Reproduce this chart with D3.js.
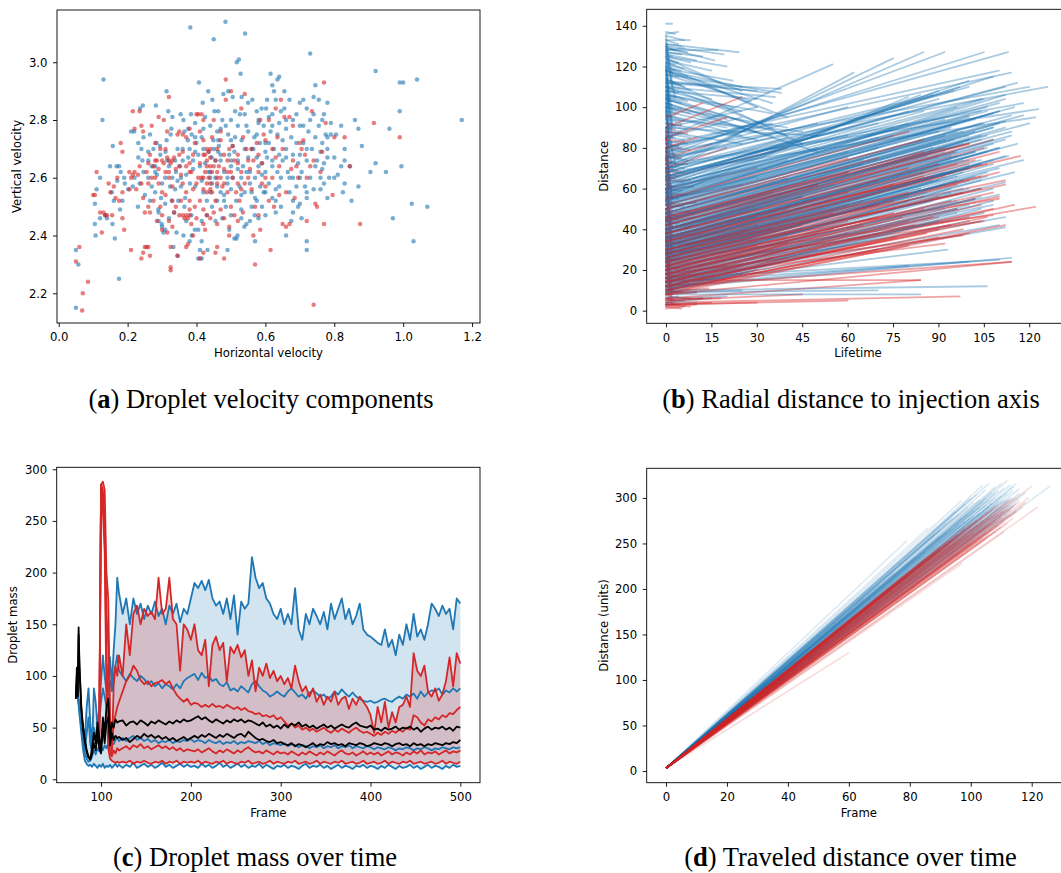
<!DOCTYPE html>
<html><head><meta charset="utf-8">
<script src="https://cdnjs.cloudflare.com/ajax/libs/d3/7.8.5/d3.min.js"></script>
<style>
body{margin:0;background:#fff;}
svg{display:block;}
</style></head><body>
<svg id="fig" width="1061" height="873"></svg>
<script>
// ===================== DATA =====================
// (a) velocity components [horizontal, vertical]
const velBlue = [
[0.05,2.35],[0.057,2.30],[0.05,2.15],
[0.13,2.94],[0.127,2.80],[0.105,2.51],[0.11,2.56],[0.105,2.44],[0.107,2.40],[0.12,2.60],[0.12,2.46],[0.135,2.47],[0.14,2.46],
[0.157,2.71],[0.154,2.55],[0.149,2.64],[0.168,2.64],[0.175,2.64],[0.16,2.52],[0.178,2.49],[0.163,2.39],[0.156,2.44],[0.175,2.25],[0.185,2.52],[0.19,2.60],[0.17,2.59],[0.18,2.62],
[0.219,2.76],[0.236,2.84],[0.244,2.85],[0.231,2.72],[0.246,2.74],[0.231,2.67],[0.243,2.66],[0.202,2.56],[0.192,2.58],[0.246,2.62],[0.22,2.60],[0.235,2.58],[0.21,2.76],[0.24,2.70],[0.25,2.54],[0.23,2.50],[0.215,2.57],
[0.282,2.85],[0.27,2.64],[0.28,2.64],[0.26,2.60],[0.284,2.72],[0.294,2.71],[0.297,2.53],[0.289,2.49],[0.299,2.44],[0.29,2.48],[0.27,2.57],[0.285,2.61],[0.295,2.68],[0.275,2.70],[0.26,2.69],[0.265,2.75],[0.29,2.45],[0.30,2.43],[0.28,2.55],[0.265,2.52],
[0.313,2.90],[0.318,2.83],[0.313,2.73],[0.327,2.77],[0.325,2.75],[0.309,2.60],[0.323,2.57],[0.309,2.51],[0.328,2.52],[0.309,2.42],[0.304,2.41],[0.338,2.56],[0.338,2.66],[0.333,2.36],[0.345,2.33],[0.342,2.41],[0.34,2.62],[0.32,2.64],[0.345,2.70],[0.335,2.48],[0.315,2.66],[0.33,2.81],[0.345,2.59],[0.32,2.46],[0.31,2.69],
[0.382,3.12],[0.365,2.76],[0.376,2.77],[0.386,2.75],[0.362,2.80],[0.354,2.82],[0.384,2.82],[0.396,2.79],[0.396,2.74],[0.352,2.64],[0.376,2.67],[0.396,2.69],[0.381,2.58],[0.396,2.57],[0.347,2.52],[0.367,2.53],[0.362,2.40],[0.386,2.40],[0.38,2.38],[0.36,2.70],[0.37,2.61],[0.39,2.63],[0.355,2.57],[0.385,2.47],[0.37,2.45],[0.395,2.42],[0.365,2.50],[0.39,2.66],[0.375,2.73],[0.355,2.60],
[0.407,2.93],[0.434,2.90],[0.418,2.86],[0.446,2.87],[0.415,2.74],[0.42,2.70],[0.444,2.67],[0.415,2.59],[0.405,2.42],[0.415,2.38],[0.432,2.35],[0.405,2.32],[0.415,2.32],[0.41,2.35],[0.449,2.73],[0.425,2.65],[0.435,2.62],[0.445,2.58],[0.42,2.55],[0.43,2.52],[0.44,2.55],[0.41,2.64],[0.44,2.78],[0.425,2.81],[0.445,2.50],[0.43,2.47],[0.415,2.45],[0.405,2.68],[0.435,2.69],[0.45,3.08],[0.44,2.60],
[0.484,3.14],[0.478,2.89],[0.492,2.90],[0.452,2.83],[0.463,2.83],[0.463,2.73],[0.463,2.69],[0.492,2.75],[0.47,2.66],[0.48,2.62],[0.455,2.60],[0.49,2.58],[0.47,2.55],[0.46,2.52],[0.485,2.50],[0.475,2.46],[0.49,2.35],[0.495,2.42],[0.455,2.45],[0.465,2.71],[0.485,2.78],[0.475,2.80],[0.495,2.68],[0.46,2.57],[0.48,2.54],[0.50,2.64],[0.49,2.60],[0.455,2.66],[0.47,2.77],[0.50,2.73],
[0.541,3.10],[0.517,3.00],[0.523,3.01],[0.528,2.96],[0.505,2.88],[0.531,2.88],[0.512,2.83],[0.526,2.82],[0.512,2.74],[0.531,2.73],[0.51,2.69],[0.52,2.66],[0.535,2.64],[0.545,2.62],[0.505,2.60],[0.525,2.57],[0.54,2.55],[0.515,2.52],[0.53,2.49],[0.545,2.44],[0.516,2.39],[0.519,2.40],[0.539,2.43],[0.51,2.39],[0.545,2.78],[0.52,2.78],[0.505,2.71],[0.54,2.70],[0.55,2.76],[0.53,2.60],
[0.55,2.86],[0.562,2.87],[0.575,2.83],[0.589,2.84],[0.568,2.74],[0.584,2.72],[0.56,2.70],[0.575,2.67],[0.59,2.65],[0.555,2.62],[0.57,2.60],[0.585,2.57],[0.595,2.55],[0.56,2.55],[0.575,2.52],[0.59,2.50],[0.569,2.47],[0.555,2.45],[0.57,2.38],[0.58,2.46],[0.565,2.70],[0.595,2.78],[0.58,2.79],[0.60,2.72],[0.59,2.61],[0.555,2.58],[0.575,2.75],
[0.602,2.84],[0.615,2.96],[0.62,2.92],[0.635,2.94],[0.64,2.95],[0.625,2.90],[0.605,2.87],[0.63,2.87],[0.645,2.83],[0.61,2.81],[0.62,2.78],[0.635,2.75],[0.65,2.73],[0.61,2.72],[0.625,2.70],[0.64,2.68],[0.605,2.67],[0.62,2.64],[0.635,2.62],[0.645,2.60],[0.61,2.58],[0.63,2.56],[0.62,2.53],[0.645,2.50],[0.63,2.48],[0.60,2.62],[0.65,2.66],[0.615,2.76],[0.64,2.79],
[0.655,2.90],[0.67,2.87],[0.68,2.80],[0.69,2.82],[0.66,2.77],[0.675,2.74],[0.69,2.72],[0.66,2.70],[0.68,2.68],[0.695,2.65],[0.665,2.62],[0.68,2.60],[0.69,2.57],[0.67,2.55],[0.68,2.52],[0.695,2.50],[0.66,2.40],[0.675,2.45],[0.70,2.51],[0.655,2.84],[0.70,2.86],
[0.73,3.03],[0.745,2.92],[0.71,2.87],[0.72,2.84],[0.74,2.82],[0.73,2.80],[0.71,2.78],[0.725,2.76],[0.745,2.74],[0.71,2.72],[0.735,2.70],[0.72,2.66],[0.745,2.64],[0.705,2.62],[0.73,2.60],[0.715,2.57],[0.74,2.56],[0.72,2.53],[0.705,2.46],[0.72,2.38],[0.72,2.35],[0.70,2.60],[0.74,2.88],
[0.755,2.87],[0.77,2.82],[0.78,2.86],[0.765,2.80],[0.79,2.79],[0.775,2.75],[0.78,2.74],[0.765,2.72],[0.76,2.69],[0.78,2.67],[0.765,2.63],[0.785,2.60],[0.77,2.58],[0.76,2.56],[0.78,2.53],[0.79,2.75],[0.755,2.78],[0.77,2.65],
[0.82,2.78],[0.86,2.80],[0.87,2.77],[0.88,2.71],[0.83,2.66],[0.845,2.64],[0.81,2.61],[0.83,2.58],[0.825,2.55],[0.87,2.57],[0.85,2.52],[0.80,2.60],[0.805,2.75],[0.83,2.70],[0.82,2.64],
[0.92,2.97],[0.99,2.93],[1.00,2.93],[1.04,2.94],[1.17,2.80],[0.99,2.83],[0.96,2.77],[0.92,2.65],[0.905,2.62],[0.95,2.62],[0.995,2.64],[1.025,2.51],[1.07,2.50],[0.97,2.46],[1.03,2.38],
[0.45,2.70],[0.47,2.68],[0.50,2.66],[0.52,2.63],[0.55,2.67],[0.58,2.64],[0.60,2.69],[0.62,2.66],[0.66,2.67],[0.70,2.68],[0.72,2.70],[0.75,2.66],[0.50,2.56],[0.53,2.54],[0.57,2.53],[0.60,2.55],[0.64,2.57],[0.67,2.60],[0.48,2.52],[0.44,2.62],[0.42,2.77],[0.46,2.76],[0.50,2.80],[0.54,2.82],[0.58,2.80],[0.62,2.82],[0.66,2.80],[0.70,2.78],[0.38,2.70],[0.40,2.72],[0.36,2.66],[0.33,2.60],[0.30,2.58],[0.28,2.62],[0.26,2.66],[0.50,2.47],[0.53,2.46],[0.56,2.50],[0.60,2.47],[0.63,2.52],[0.68,2.48],[0.72,2.55],[0.76,2.60],[0.78,2.70],[0.80,2.67]
];
const velRed = [
[0.06,2.36],[0.05,2.31],[0.085,2.24],[0.07,2.20],[0.068,2.14],
[0.10,2.54],[0.105,2.54],[0.11,2.62],[0.12,2.48],[0.13,2.48],[0.125,2.41],[0.135,2.47],[0.14,2.47],[0.145,2.58],
[0.15,2.55],[0.16,2.57],[0.165,2.53],[0.175,2.52],[0.18,2.72],[0.185,2.69],[0.185,2.46],[0.19,2.42],[0.185,2.55],[0.17,2.60],[0.155,2.47],
[0.205,2.62],[0.21,2.60],[0.215,2.61],[0.22,2.62],[0.23,2.61],[0.215,2.83],[0.205,2.56],[0.21,2.35],[0.22,2.77],[0.24,2.78],[0.245,2.76],[0.235,2.83],[0.24,2.58],[0.245,2.53],[0.24,2.32],[0.245,2.34],[0.25,2.36],[0.235,2.64],[0.225,2.56],[0.25,2.48],
[0.255,2.36],[0.26,2.36],[0.265,2.33],[0.255,2.62],[0.26,2.65],[0.265,2.68],[0.27,2.60],[0.275,2.64],[0.28,2.66],[0.285,2.66],[0.29,2.58],[0.26,2.50],[0.275,2.52],[0.265,2.48],[0.285,2.45],[0.29,2.81],[0.295,2.70],[0.28,2.72],[0.27,2.78],[0.29,2.63],[0.30,2.55],[0.295,2.50],[0.26,2.58],[0.30,2.42],
[0.32,2.88],[0.305,2.80],[0.315,2.76],[0.315,2.67],[0.32,2.66],[0.325,2.65],[0.33,2.66],[0.335,2.67],[0.305,2.65],[0.31,2.62],[0.32,2.60],[0.33,2.57],[0.31,2.54],[0.33,2.52],[0.34,2.50],[0.32,2.45],[0.33,2.43],[0.325,2.36],[0.325,2.29],[0.325,2.28],[0.345,2.33],[0.31,2.70],[0.345,2.75],[0.34,2.63],[0.335,2.48],[0.315,2.41],
[0.35,2.76],[0.36,2.75],[0.37,2.74],[0.38,2.77],[0.35,2.64],[0.355,2.61],[0.36,2.58],[0.37,2.55],[0.38,2.52],[0.36,2.47],[0.365,2.46],[0.37,2.47],[0.375,2.46],[0.38,2.47],[0.385,2.44],[0.375,2.37],[0.37,2.36],[0.395,2.50],[0.39,2.56],[0.385,2.62],[0.39,2.68],[0.395,2.72],[0.36,2.69],[0.38,2.65],[0.355,2.52],[0.39,2.40],[0.40,2.82],
[0.405,2.82],[0.415,2.82],[0.42,2.80],[0.41,2.76],[0.42,2.73],[0.43,2.70],[0.425,2.68],[0.435,2.69],[0.44,2.67],[0.41,2.65],[0.415,2.60],[0.425,2.62],[0.435,2.60],[0.44,2.58],[0.445,2.62],[0.42,2.56],[0.43,2.55],[0.41,2.52],[0.42,2.49],[0.43,2.47],[0.44,2.46],[0.41,2.32],[0.42,2.34],[0.425,2.42],[0.445,2.74],[0.44,2.64],[0.43,2.64],[0.405,2.60],[0.445,2.55],[0.43,2.58],
[0.45,2.80],[0.46,2.70],[0.47,2.73],[0.455,2.66],[0.465,2.64],[0.48,2.68],[0.49,2.66],[0.46,2.60],[0.475,2.57],[0.49,2.55],[0.455,2.52],[0.47,2.49],[0.48,2.46],[0.495,2.43],[0.48,2.32],[0.495,2.40],[0.46,2.36],[0.455,2.34],[0.485,2.94],[0.485,2.87],[0.50,2.90],[0.47,2.76],[0.49,2.62],[0.46,2.44],[0.495,2.70],
[0.51,2.66],[0.52,2.65],[0.53,2.62],[0.505,2.60],[0.54,2.58],[0.515,2.55],[0.525,2.52],[0.535,2.48],[0.51,2.47],[0.52,2.45],[0.505,2.71],[0.53,2.84],[0.54,2.89],[0.545,2.70],[0.535,2.74],[0.55,2.66],[0.52,2.58],
[0.555,2.63],[0.565,2.66],[0.575,2.72],[0.58,2.68],[0.59,2.65],[0.57,2.50],[0.58,2.47],[0.565,2.40],[0.57,2.30],[0.585,2.42],[0.59,2.58],[0.56,2.56],[0.595,2.75],[0.585,2.80],[0.60,2.60],
[0.61,2.80],[0.63,2.84],[0.645,2.87],[0.62,2.70],[0.63,2.67],[0.64,2.64],[0.61,2.52],[0.625,2.50],[0.615,2.35],[0.64,2.54],[0.60,2.57],[0.65,2.44],[0.635,2.74],
[0.655,2.81],[0.67,2.81],[0.68,2.78],[0.66,2.55],[0.675,2.63],[0.69,2.64],[0.67,2.44],[0.66,2.43],[0.685,2.53],[0.695,2.60],[0.70,2.72],
[0.71,2.73],[0.72,2.60],[0.73,2.64],[0.74,2.66],[0.715,2.68],[0.735,2.83],[0.745,2.51],[0.75,2.50],[0.72,2.45],[0.74,2.16],[0.705,2.70],
[0.765,2.69],[0.77,2.93],[0.775,2.79],[0.77,2.44],[0.795,2.54],[0.80,2.74],[0.76,2.62],
[0.83,2.74],[0.845,2.64],[0.875,2.44],[0.915,2.79],[0.99,2.74],
[0.42,2.68],[0.43,2.66],[0.44,2.70],[0.45,2.64],[0.46,2.62],[0.47,2.60],[0.38,2.62],[0.40,2.58],[0.42,2.60],[0.44,2.56],[0.46,2.58],[0.48,2.63],[0.50,2.62],[0.52,2.68],[0.55,2.60],[0.58,2.62],[0.62,2.60],[0.35,2.68],[0.37,2.64],[0.32,2.62],[0.30,2.66],[0.28,2.60],[0.40,2.46],[0.42,2.44],[0.38,2.49],[0.35,2.47],[0.50,2.50],[0.53,2.56],[0.56,2.70],[0.60,2.73],[0.65,2.70],[0.68,2.66],[0.45,2.48],[0.48,2.58],[0.30,2.47]
];
const velXTicks = [0.0,0.2,0.4,0.6,0.8,1.0,1.2];
const velYTicks = [2.2,2.4,2.6,2.8,3.0];

// (b) radial distance trajectories [lifetime0, dist0, lifetime1, dist1]
const radialBlue = [
[0,141,2,141],[0,137,3,136],[0,136,4,137],[0,131,5,130],[0,130,3,128],[0,128,6,129],[0,126,2,125],[0,124,4,122],[0,122,3,121],[0,120,5,118],[0,118,2,117],[0,116,4,115],[0,114,3,112],[0,112,6,110],[0,110,2,109],[0,108,4,107],[0,106,3,105],[0,104,5,102],[0,102,2,101],[0,100,3,99],[0,98,4,97],[0,96,2,95],[0,94,5,92],[0,92,3,91],[0,90,2,89],[0,88,4,87],[0,86,3,85],[0,84,2,83],[0,82,5,80],[0,80,3,79],[0,78,2,77],[0,76,4,75],[0,74,3,73],[0,72,2,71],[0,70,3,69],[0,66,2,65],[0,62,3,61],[0,10,5,9],[0,6,4,7],[0,4,6,5],[0,3,3,3],[0,119,3,118],[0,115,2,114],[0,109,3,108],[0,103,2,103],[0,97,3,96],[0,93,2,92],
[0,135,1,120],[0,130,2,110],[0,125,3,105],[0,120,1,95],[0,115,2,90],[0,110,2,85],[0,105,1,80],[0,100,1,75],[0,95,3,72],[0,90,2,70],[0,85,1,60],[0,80,2,55],[0,128,1,100],[0,118,2,98],[0,108,1,88],[0,98,2,78],[0,88,1,65],[0,75,2,50],[0,70,1,40],[0,60,2,30],[0,50,1,20],[0,40,2,10],[0,132,2,116],[0,122,1,102],[0,112,2,92],[0,102,1,82],
[0,135,6,133],[0,133,4,131],[0,129,7,127],[0,127,5,126],[0,125,8,122],[0,121,6,119],[0,117,7,115],[0,113,5,111],[0,111,8,108],[0,107,6,104],[0,105,7,103],[0,101,5,99],[0,99,8,97],[0,95,6,93],[0,91,7,89],[0,89,5,88],[0,87,8,85],[0,85,6,84],[0,83,7,82],[0,81,4,80],[0,79,6,78],[0,77,5,76],[0,75,7,74],[0,73,4,72],[0,71,6,70],[0,69,5,68],[0,67,4,66],[0,64,6,63],[0,60,5,59],[0,56,4,55],[0,52,6,51],[0,48,3,47],[0,44,4,43],[0,8,10,9],[0,5,12,6],[0,7,8,6],[0,4,15,6],[0,6,20,7],[0,3,10,4],[0,9,25,10],
[0,130,19,126],[0,128,17,128],[0,127,12,125],[0,129,16,123],[0,125,20,120],[0,123,15,118],[0,131,24,127],[0,119,22,113],[0,112,38,109],[0,110,36,105],[0,113,34,107],[0,108,30,104],[0,116,28,103],[0,106,25,98],[0,118,40,95],[0,114,45,82],[0,110,35,90],[0,104,20,94],[0,120,30,100],[0,102,50,78],[0,126,10,123],[0,133,8,133],[0,124,18,112],[0,122,25,108],[0,118,35,102],[0,100,30,88],[0,105,40,86],[0,96,25,86],
[0,118,25,110],[0,116,38,107],[0,112,30,108],[0,110,15,104],[0,108,22,100],[0,106,35,97],[0,104,28,92],[0,102,18,94],[0,100,40,90],[0,98,35,86],[0,96,20,90],[0,94,45,88],[0,92,30,84],[0,90,50,86],[0,88,25,82],
[0,80,113,127],[0,78,105,127],[0,76,92,127],[0,72,85,127],[0,70,75,124],[0,68,62,117],[0,85,55,121],[0,82,110,118],[0,80,114,117],[0,78,120,110],[0,75,126,110],[0,72,123,99],[0,70,118,102],[0,68,122,95],[0,66,116,112],[0,64,108,115],[0,62,100,113],[0,64,97,110],[0,60,90,108],[0,58,84,106],[0,56,80,105],[0,55,112,106],[0,54,105,104],[0,52,115,100],[0,50,110,98],[0,48,118,96],[0,46,112,93],[0,45,120,92],[0,44,108,90],[0,42,114,88],[0,40,104,86],[0,40,112,84],[0,38,100,84],[0,36,116,82],[0,35,110,80],[0,34,106,78],[0,33,96,76],[0,32,113,76],[0,31,108,74],[0,30,118,74],[0,30,104,72],[0,29,110,70],[0,28,100,70],[0,27,115,68],[0,26,106,66],[0,25,98,64],[0,24,112,63],[0,23,104,60],[0,22,94,58],[0,21,110,57],[0,20,102,55],[0,19,108,52],[0,18,96,50],[0,17,105,48],[0,16,112,46],[0,15,100,44],[0,14,110,42],[0,13,93,30],[0,12,112,41],[0,11,114,26],[0,10,106,12],[0,8,84,8],[0,9,70,10],[0,12,80,22],[0,14,100,24],[0,16,110,25],
[0,62,106,100],[0,60,110,102],[0,58,104,98],[0,57,100,96],[0,55,108,97],[0,54,96,92],[0,53,102,94],[0,52,90,88],[0,50,105,92],[0,49,98,88],[0,48,92,86],[0,47,108,90],[0,46,100,86],[0,45,95,84],[0,44,88,80],[0,43,104,84],[0,42,98,82],[0,41,92,78],[0,40,86,76],[0,39,108,82],[0,38,94,76],[0,37,102,78],[0,36,90,72],[0,35,98,74],[0,34,85,68],[0,33,104,74],[0,32,92,68],[0,31,100,70],[0,30,88,64],[0,29,96,66],[0,28,84,60],[0,27,102,66],[0,26,92,62],[0,25,80,56],[0,24,98,60],[0,60,70,85],[0,55,60,78],[0,50,65,72],[0,45,50,62],[0,40,45,56],[0,65,45,82],[0,70,40,85],[0,75,50,92],[0,58,75,90],[0,66,80,98],[0,72,95,108],[0,68,100,110],[0,74,88,106],[0,76,60,100],[0,80,35,92],[0,90,30,100],[0,85,25,95],
[0,66,112,110],[0,63,104,104],[0,61,96,100],[0,59,112,104],[0,57,92,94],[0,56,106,98],[0,54,100,95],[0,53,110,98],[0,51,94,90],[0,50,114,96],[0,48,104,92],[0,47,96,88],[0,46,110,92],[0,45,102,88],[0,44,92,84],[0,43,112,90],[0,42,106,86],[0,41,100,84],[0,40,94,80],[0,39,114,86],[0,38,108,84],[0,37,96,78],[0,36,106,80],[0,35,102,78],[0,34,94,74],[0,33,110,80],[0,32,100,74],[0,31,90,70],[0,30,112,76],[0,29,104,72],[0,28,94,68],[0,27,108,72],[0,26,98,68],[0,25,90,64],[0,24,106,68],[0,23,96,64],[0,22,86,58],[0,21,104,64],[0,20,94,60],[0,19,100,60],[0,18,88,54],[0,17,108,60],[0,16,96,54],[0,15,104,56],[0,14,92,50],[0,13,100,52],[0,12,108,54],[0,11,96,48],[0,10,104,50],[0,9,90,44],[0,70,70,92],[0,66,60,86],[0,62,50,80],[0,58,40,74],[0,54,30,66],[0,68,90,104],[0,64,85,98],[0,60,80,92],[0,56,75,86],[0,52,70,80],[0,48,65,74],[0,44,60,68],[0,40,55,62],[0,36,50,56],[0,32,45,50]
];
const radialRed = [
[0,90,3,89],[0,86,2,85],[0,82,4,81],[0,78,3,77],[0,74,2,73],[0,70,4,69],[0,66,3,65],[0,62,2,61],[0,58,5,57],[0,54,3,53],[0,50,2,49],[0,46,4,45],[0,42,3,41],[0,38,2,37],[0,34,5,33],[0,30,3,29],[0,26,2,25],[0,22,4,21],[0,18,3,17],[0,14,2,13],[0,10,4,9],[0,6,3,5],[0,3,8,2],[0,2,5,1],[0,48,3,47],[0,40,2,39],[0,32,3,31],[0,24,2,23],[0,16,3,15],[0,60,3,59],[0,52,2,51],[0,44,3,43],[0,36,2,35],[0,28,3,27],[0,20,2,19],[0,12,3,11],[0,8,2,7],[0,4,4,3],
[0,80,1,50],[0,60,2,30],[0,45,1,15],[0,70,2,40],[0,50,1,20],[0,35,2,8],[0,90,1,60],[0,25,1,5],[0,55,2,25],[0,40,1,10],[0,65,2,35],[0,30,2,3],[0,85,2,55],[0,75,1,45],
[0,92,5,91],[0,88,7,87],[0,84,6,83],[0,80,8,79],[0,76,5,75],[0,72,7,72],[0,68,6,68],[0,64,8,64],[0,60,9,61],[0,56,7,57],[0,52,10,53],[0,48,8,49],[0,44,10,46],[0,40,9,42],[0,36,12,38],[0,32,10,34],[0,28,12,30],[0,24,10,26],[0,20,12,22],[0,16,10,18],[0,12,8,13],[0,8,10,9],[0,5,12,6],[0,2,10,3],[0,1,6,2],[0,3,15,4],[0,6,18,6],[0,9,14,11],[0,14,16,17],[0,18,20,22],
[0,60,30,70],[0,55,25,62],[0,50,40,65],[0,45,35,58],[0,42,50,62],[0,38,45,56],[0,35,30,46],[0,32,55,55],[0,30,40,45],[0,28,60,52],[0,26,35,40],[0,24,50,45],[0,22,45,40],[0,20,30,32],[0,18,55,40],[0,16,40,33],[0,14,60,38],[0,12,35,26],[0,10,50,30],[0,8,25,18],[0,70,20,80],[0,75,15,82],[0,80,10,85],[0,65,40,80],[0,85,20,95],[0,90,25,105],[0,95,12,102],[0,3,60,5],[0,6,84,15],[0,4,97,7],[0,3,30,4],[0,5,45,8],
[0,40,30,50],[0,38,25,46],[0,36,40,50],[0,34,20,40],[0,32,30,42],[0,30,25,38],[0,28,35,40],[0,26,45,42],[0,24,30,34],[0,22,40,36],[0,20,50,38],[0,18,35,30],[0,16,45,32],[0,14,25,22],[0,12,40,26],[0,10,30,20],
[0,35,117,76],[0,20,122,51],[0,30,112,64],[0,28,110,55],[0,25,108,47],[0,22,105,44],[0,18,98,37],[0,16,92,33],[0,12,114,24],[0,40,108,84],[0,38,105,80],[0,36,110,78],[0,34,102,74],[0,33,100,72],[0,32,106,72],[0,30,95,68],[0,30,104,66],[0,29,110,68],[0,28,100,64],[0,27,96,62],[0,26,112,62],[0,25,104,60],[0,24,98,58],[0,23,108,58],[0,22,94,54],[0,21,102,55],[0,20,110,56],[0,19,96,50],[0,18,104,52],[0,17,90,46],[0,16,108,50],[0,15,100,46],[0,14,94,42],[0,13,86,38],[0,12,104,44],[0,11,98,40],[0,10,90,36],[0,9,80,32],[0,8,100,38],[0,10,112,42],[0,12,106,46],[0,14,115,52],[0,45,100,82],[0,42,90,76],[0,40,80,70],[0,38,70,64],[0,36,60,58],[0,34,75,62],[0,32,85,66],[0,30,65,54],[0,28,55,48],[0,26,70,52],[0,24,80,54],[0,22,60,44],[0,20,75,48],[0,18,65,42],[0,16,80,44],[0,14,70,38],[0,12,90,40],[0,50,85,84],[0,48,70,75],[0,46,60,68],[0,44,50,62],[0,55,80,88],[0,52,60,75],[0,15,84,15],[0,8,114,24],
[0,30,80,58],[0,28,75,54],[0,26,85,56],[0,24,90,56],[0,22,70,46],[0,20,85,50],[0,18,78,46],[0,16,88,46],[0,14,82,42],[0,12,76,36],[0,10,70,30],[0,34,88,66],[0,32,92,66],[0,36,96,72],[0,38,90,72],[0,40,95,78],[0,42,100,82],[0,44,92,80],[0,46,85,78]
];
const radialXTicks = [0,15,30,45,60,75,90,105,120];
const radialYTicks = [0,20,40,60,80,100,120,140];

// (c) droplet mass over frames
const massFrames = [72,73,74,75,76,78,80,82,84,86,88,90,92,94,96,98,100,102,104,106,108,110,112,114,116,118,120,
124,128,132,136,140,144,148,152,156,160,164,168,172,176,180,184,188,192,196,200,
204,208,212,216,220,224,228,232,236,240,244,248,252,256,260,264,268,272,276,280,284,288,292,296,300,
304,308,312,316,320,324,328,332,336,340,344,348,352,356,360,364,368,372,376,380,384,388,392,396,400,
404,408,412,416,420,424,428,432,436,440,444,448,452,456,460,464,468,472,476,480,484,488,492,496,500];
const massBlueMax = [80,95,85,78,72,62,50,40,70,88,55,30,88,75,50,70,95,120,100,85,110,118,90,125,150,195,180,
160,175,150,175,160,170,155,168,160,172,158,165,150,168,160,170,152,165,160,175,
190,185,192,183,193,175,168,172,160,175,155,178,140,172,165,170,215,195,185,190,175,170,160,155,165,
150,160,150,185,145,135,160,150,165,158,150,162,145,170,155,165,175,155,165,150,158,170,145,140,138,
135,132,130,145,128,135,120,140,130,150,135,160,138,145,135,150,170,165,158,168,160,165,145,175,170];
const massBlueHigh = [80,90,82,76,70,58,42,30,45,60,35,25,50,40,35,55,75,88,80,70,90,95,85,100,110,120,105,
100,95,102,98,95,100,97,92,95,90,93,88,92,90,87,92,88,95,98,100,
102,96,103,98,100,95,97,92,90,94,86,88,85,90,87,84,92,95,90,86,84,80,82,85,82,
80,85,88,84,80,82,78,84,86,83,80,82,78,80,85,82,87,83,80,84,80,78,76,75,76,
74,75,77,78,76,75,78,80,78,82,80,83,78,85,80,84,86,85,88,82,86,84,88,85,88];
const massBlueLow = [80,88,80,74,66,52,35,25,20,17,18,22,28,24,30,27,32,28,33,30,35,32,36,34,38,40,37,
40,37,40,42,38,40,37,39,36,38,35,37,36,38,35,37,36,38,37,39,
36,38,37,35,38,36,35,37,34,36,35,37,34,36,35,37,36,35,37,34,36,33,35,34,33,
35,32,34,33,31,33,32,30,32,31,33,30,32,31,33,30,32,31,33,30,32,31,30,32,31,
29,31,30,29,31,30,28,30,29,31,30,28,30,29,31,30,28,30,29,31,30,29,31,30,31];
const massBlueMin = [80,86,78,72,62,45,28,18,15,13,14,12,15,13,11,14,12,15,11,13,12,14,11,13,15,12,14,
11,14,12,16,11,13,15,12,14,11,13,16,12,14,11,13,15,12,14,12,
13,11,15,12,14,11,13,16,12,14,11,13,15,12,14,11,13,12,15,11,14,12,10,13,12,
14,11,13,12,10,13,15,11,13,12,14,11,13,10,12,14,11,13,12,10,13,12,14,11,13,
12,10,13,11,14,12,10,13,11,12,14,11,13,10,12,14,11,13,12,10,13,11,14,12,13];
const massRedMax = [null,null,null,null,null,null,null,null,null,null,null,null,null,null,null,60,285,288,280,200,175,60,25,90,110,100,120,
100,150,120,160,168,150,165,158,162,155,195,160,165,195,155,150,105,150,145,135,
150,125,120,135,90,130,138,125,132,95,128,122,130,118,125,100,115,85,108,100,112,98,105,95,100,
92,98,88,110,95,85,90,80,88,75,82,72,80,75,85,72,78,80,68,78,72,80,75,70,62,
45,70,55,75,50,65,55,70,72,80,70,122,105,100,110,85,80,88,76,82,95,118,90,122,112];
const massRedHigh = [null,null,null,null,null,null,null,null,null,null,null,null,null,null,null,45,285,280,250,160,130,50,30,55,62,70,75,
85,95,100,110,105,96,92,95,90,93,94,96,92,95,88,82,78,75,78,72,
74,73,70,72,70,73,70,71,69,72,70,68,70,67,69,66,65,63,64,61,62,60,62,58,60,
56,52,54,50,52,48,50,47,49,46,48,50,47,45,48,46,49,47,45,48,50,47,45,46,44,
42,45,43,46,44,47,45,48,46,50,48,62,60,55,52,58,56,60,58,62,60,64,63,67,70];
const massRedLow = [null,null,null,null,null,null,null,null,null,null,null,null,null,null,null,35,285,270,240,120,60,25,22,28,25,30,28,
30,32,29,33,31,34,30,32,29,31,33,30,32,29,31,28,30,27,29,28,
27,29,26,28,30,27,25,28,26,29,27,25,28,26,29,31,28,26,27,25,28,26,24,27,25,
26,24,27,25,23,26,24,27,25,23,26,24,27,25,23,26,28,25,24,26,23,25,27,24,26,
24,26,23,25,27,24,26,25,23,26,24,27,25,28,24,26,25,27,24,26,28,25,27,26,28];
const massRedMin = [null,null,null,null,null,null,null,null,null,null,null,null,null,null,null,30,285,260,220,80,30,20,18,17,16,17,16,
17,16,18,15,17,16,18,16,15,17,16,18,15,17,16,18,15,17,16,17,
16,18,15,17,16,15,17,16,18,15,17,16,15,17,16,18,15,16,17,15,16,18,15,17,16,
15,17,16,18,15,16,17,15,16,18,15,17,16,15,17,16,18,15,16,17,15,16,18,15,16,
17,15,16,18,15,17,16,15,17,16,18,15,16,17,15,16,17,15,16,18,15,17,16,15,17];
const massBlackA = [78,108,82,147,110,70,50,38,28,22,20,30,45,35,55,40,30,60,45,70,78,40,55,50,58,55,56,
57,52,55,56,53,57,55,52,56,54,57,55,53,56,54,57,55,58,56,57,
59,61,58,60,57,55,58,56,54,57,55,58,56,58,55,57,56,54,52,55,51,53,50,52,49,
53,50,54,52,55,51,53,50,52,49,51,53,50,52,49,51,53,51,50,53,55,52,51,50,52,
48,49,47,50,48,49,51,48,50,49,51,48,50,46,49,51,48,50,49,51,48,50,47,51,50];
const massBlackB = [78,100,80,140,105,68,48,36,26,21,19,25,35,28,45,30,25,50,35,55,60,33,45,38,42,40,41,
38,40,36,39,42,40,44,41,43,40,42,39,41,38,40,37,39,41,38,40,
42,40,43,41,44,42,40,43,41,44,42,40,43,44,41,46,43,40,38,39,37,36,38,35,36,
34,33,35,32,34,33,31,33,35,32,34,33,36,34,35,33,34,32,35,34,33,35,34,32,33,
35,34,33,35,34,32,34,35,33,34,32,35,33,34,32,34,33,35,34,33,35,34,36,35,38];
const massXTicks = [100,200,300,400,500];
const massYTicks = [0,50,100,150,200,250,300];

// (d) traveled distance: common start [frame, distance] and end points [frame, distance]
const travelStart = [0, 3];
const travelBlue = [
[126,313],[112,319],[110,316],[106,316],[104,314],[108,312],[114,312],[116,310],[118,306],[97,297],[98,293],[86,267],[79,253],[100,300],[102,304],[105,309],[107,306],[109,308],[111,311],[113,314],[115,316],[103,298],[101,295],[99,290],[96,282],[94,278],[92,272],[90,265],[88,260],[95,285],[105,300],[108,305],[110,302],[112,305],[114,308],[116,305],[113,300],[111,298],[109,296],[107,294],[105,292],[103,290],[101,286],[99,282],[97,278],[104,296],[106,298],[108,300],[110,296],[112,298],[114,300],[116,299],[115,294],[113,292],[111,290],[109,288],[107,287],[105,285],[103,283],[101,280],[100,278],[98,274],[96,270],[94,266],[92,262],[90,258],[106,290],[108,292],[110,290],[112,292],[114,290],[115,287],[113,286],[111,284],[109,282],[107,280],[104,276],[102,274],[100,270],[98,266],[112,282],[110,278],[108,275],[106,272],[104,270],[96,260],[85,240],[82,235],[75,218],[70,205],[65,190]
];
const travelRed = [
[122,290],[120,313],[111,263],[105,255],[97,228],[60,130],[90,244],[96,250],[110,280],[115,300],[113,298],[108,290],[104,280],[100,272],[98,268],[102,276],[106,285],[112,296],[109,292],[95,259],[93,253],[88,240],[85,233],[80,220],[75,205],[116,296],[114,292],[112,288],[110,285],[108,282],[106,278],[104,274],[102,270],[100,266],[98,262],[96,258],[94,254],[92,250],[90,246],[111,278],[109,275],[107,272],[105,268],[103,265],[101,262],[99,258],[97,255],[115,285],[113,282],[111,274],[109,270],[107,266],[105,262],[103,258],[101,255],[114,278],[112,272],[110,268],[108,263],[106,260],[104,256],[102,252],[117,290],[118,295],[119,300],[113,288],[111,286],[95,252],[93,248],[91,244],[89,240],[87,236],[84,228],[78,212],[70,190],[96,240],[100,250]
];
const travelXTicks = [0,20,40,60,80,100,120];
const travelYTicks = [0,50,100,150,200,250,300];

const captions = [
  {tag:"a", text:" Droplet velocity components"},
  {tag:"b", text:" Radial distance to injection axis"},
  {tag:"c", text:" Droplet mass over time"},
  {tag:"d", text:" Traveled distance over time"}
];

// ===================== DRAWING =====================
const BLUE = "#1f77b4", RED = "#d62728";
const svg = d3.select("#fig");
svg.append("rect").attr("width",1061).attr("height",873).attr("fill","#fff");
const FONT = "DejaVu Sans";

function panel(cfg){
  const x = d3.scaleLinear().domain(cfg.xDomain).range([cfg.l, cfg.r]);
  const y = d3.scaleLinear().domain(cfg.yDomain).range([cfg.b, cfg.t]);
  const cid = "clip-" + cfg.id;
  svg.append("clipPath").attr("id", cid).append("rect")
    .attr("x", cfg.l).attr("y", cfg.t).attr("width", cfg.r - cfg.l).attr("height", cfg.b - cfg.t);
  const plot = svg.append("g").attr("clip-path", `url(#${cid})`);
  return {x, y, plot, cfg};
}
function decorate(p){
  const {x, y, cfg} = p;
  svg.append("rect").attr("x", cfg.l).attr("y", cfg.t).attr("width", cfg.r - cfg.l).attr("height", cfg.b - cfg.t)
    .attr("fill", "none").attr("stroke", "#000").attr("stroke-width", 0.9);
  const gx = svg.append("g").attr("transform", `translate(0,${cfg.b})`)
    .call(d3.axisBottom(x).tickValues(cfg.xTicks).tickFormat(cfg.xFmt).tickSize(4).tickPadding(6));
  const gy = svg.append("g").attr("transform", `translate(${cfg.l},0)`)
    .call(d3.axisLeft(y).tickValues(cfg.yTicks).tickFormat(cfg.yFmt).tickSize(4).tickPadding(5.5));
  [gx, gy].forEach(g => {
    g.select(".domain").remove();
    g.attr("font-family", FONT).attr("font-size", 11.7);
    g.selectAll("line").attr("stroke", "#000").attr("stroke-width", 0.9);
    g.selectAll("text").attr("fill", "#000");
  });
  svg.append("text").attr("x", (cfg.l + cfg.r) / 2).attr("y", cfg.b + 34)
    .attr("text-anchor", "middle").attr("font-family", FONT).attr("font-size", 11.7).text(cfg.xLabel);
  svg.append("text").attr("transform", `translate(${cfg.yLabelX},${(cfg.t + cfg.b) / 2}) rotate(-90)`)
    .attr("dy", "0.35em").attr("text-anchor", "middle").attr("font-family", FONT).attr("font-size", 11.7).text(cfg.yLabel);
}
const f1 = d3.format(".1f"), f0 = d3.format("d");

// ---- (a)
const pa = panel({id:"a", l:57, r:480, t:10, b:323, xDomain:[-0.005,1.223], yDomain:[2.097,3.181],
  xTicks:velXTicks, yTicks:velYTicks, xFmt:f1, yFmt:f1, xLabel:"Horizontal velocity", yLabel:"Vertical velocity", yLabelX:17.3});
[[velBlue, BLUE], [velRed, RED]].forEach(([data, c]) => {
  pa.plot.append("g").selectAll("circle").data(data).join("circle")
    .attr("cx", d => pa.x(d[0])).attr("cy", d => pa.y(d[1])).attr("r", 2.25)
    .attr("fill", c).attr("fill-opacity", 0.6);
});
decorate(pa);

// ---- (b)
const pb = panel({id:"b", l:646.7, r:1069.5, t:9.3, b:323.3, xDomain:[-6.375,133.3], yDomain:[-6.2,148.1],
  xTicks:radialXTicks, yTicks:radialYTicks, xFmt:f0, yFmt:f0, xLabel:"Lifetime", yLabel:"Distance", yLabelX:604});
const radialAll = radialBlue.map((d,i)=>({d, c:BLUE, o:0.38, k:i/radialBlue.length}))
  .concat(radialRed.map((d,i)=>({d, c:RED, o:0.42, k:(i+0.5)/radialRed.length})))
  .sort((a,b)=>a.k-b.k);
const segLine = d3.line();
pb.plot.append("g").selectAll("path").data(radialAll).join("path")
  .attr("d", s => segLine([[pb.x(s.d[0]), pb.y(s.d[1])], [pb.x(s.d[2]), pb.y(s.d[3])]]))
  .attr("fill", "none").attr("stroke", s => s.c).attr("stroke-opacity", s => s.o)
  .attr("stroke-width", 1.8).attr("stroke-linecap", "round");
decorate(pb);

// ---- (c)
const pc = panel({id:"c", l:56.7, r:480, t:467.3, b:782.7, xDomain:[50.6,521.9], yDomain:[-3.3,301.9],
  xTicks:massXTicks, yTicks:massYTicks, xFmt:f0, yFmt:f0, xLabel:"Frame", yLabel:"Droplet mass", yLabelX:12.7});
function band(top, bot, color){
  const ar = d3.area().defined((d,i)=> top[i] != null && bot[i] != null)
    .x((d,i)=>pc.x(massFrames[i])).y0((d,i)=>pc.y(bot[i])).y1((d,i)=>pc.y(top[i]));
  pc.plot.append("path").attr("d", ar(massFrames)).attr("fill", color).attr("fill-opacity", 0.2);
}
band(massBlueMax, massBlueMin, BLUE);
band(massRedMax, massRedMin, RED);
function series(vals, color){
  const ln = d3.line().defined((d,i)=> vals[i] != null)
    .x((d,i)=>pc.x(massFrames[i])).y((d,i)=>pc.y(vals[i]));
  pc.plot.append("path").attr("d", ln(massFrames)).attr("fill","none").attr("stroke", color)
    .attr("stroke-width", 1.8).attr("stroke-linejoin","round");
}
[massBlueMax, massBlueHigh, massBlueLow, massBlueMin].forEach(v=>series(v, BLUE));
[massRedMax, massRedHigh, massRedLow, massRedMin].forEach(v=>series(v, RED));
[massBlackA, massBlackB].forEach(v=>series(v, "#000"));
decorate(pc);

// ---- (d)
const pd = panel({id:"d", l:646.7, r:1071, t:468.3, b:782.7, xDomain:[-6.33,132.9], yDomain:[-12.9,332.6],
  xTicks:travelXTicks, yTicks:travelYTicks, xFmt:f0, yFmt:f0, xLabel:"Frame", yLabel:"Distance (units)", yLabelX:604});
[[travelBlue, BLUE, 0.16], [travelRed, RED, 0.17]].forEach(([data, c, o]) => {
  pd.plot.append("g").selectAll("path").data(data).join("path")
    .attr("d", d => segLine([[pd.x(travelStart[0]), pd.y(travelStart[1])], [pd.x(d[0]), pd.y(d[1])]]))
    .attr("fill","none").attr("stroke", c).attr("stroke-opacity", o).attr("stroke-width", 1.6);
});
decorate(pd);

// ---- captions
const capPos = [[261,407.5],[851,407.5],[255,866],[850.5,866]];
captions.forEach((c,i)=>{
  const t = svg.append("text").attr("x", capPos[i][0]).attr("y", capPos[i][1]).attr("text-anchor","middle")
    .attr("font-family","Liberation Serif").attr("font-size", 26.5).attr("fill","#000");
  t.append("tspan").text("(");
  t.append("tspan").attr("font-weight","bold").text(c.tag);
  t.append("tspan").text(")" + c.text);
});
</script>
</body></html>
